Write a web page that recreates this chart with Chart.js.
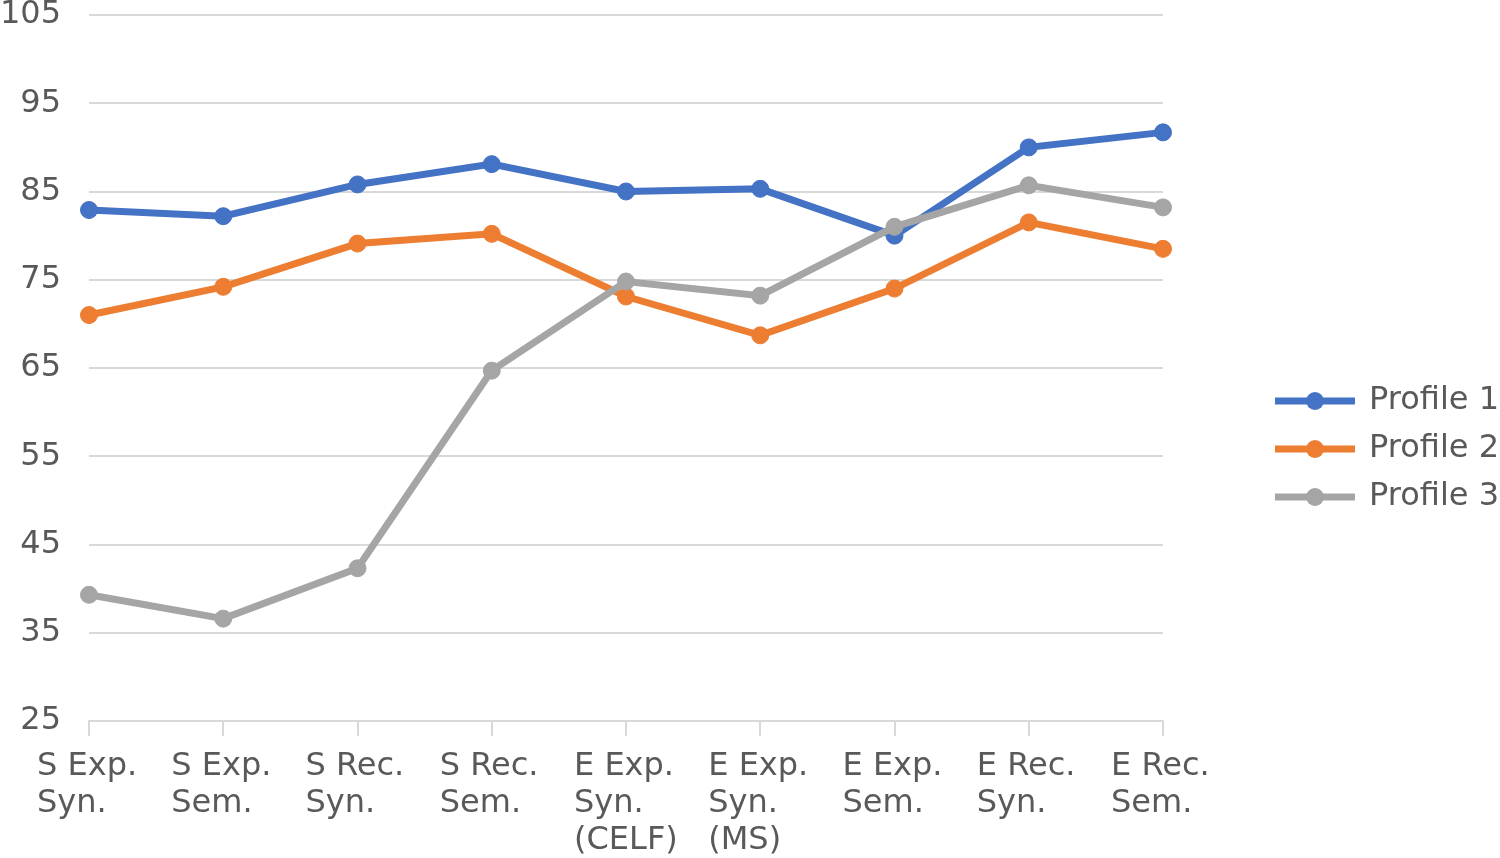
<!DOCTYPE html>
<html>
<head>
<meta charset="utf-8">
<script src="https://cdn.jsdelivr.net/npm/chart.js@4.4.0/dist/chart.umd.min.js"></script>
<style>
  html, body { margin: 0; padding: 0; background: #fff; }
  #wrap { width: 1500px; height: 858px; }
</style>
</head>
<body>
<div id="wrap"><canvas id="chart" width="1500" height="858"></canvas></div>
<script>
// Datos del gráfico
const categories = [
  ['S Exp.', 'Syn.'], ['S Exp.', 'Sem.'], ['S Rec.', 'Syn.'], ['S Rec.', 'Sem.'],
  ['E Exp.', 'Syn.', '(CELF)'], ['E Exp.', 'Syn.', '(MS)'], ['E Exp.', 'Sem.'],
  ['E Rec.', 'Syn.'], ['E Rec.', 'Sem.']
];
const profile1 = [82.9, 82.2, 85.8, 88.1, 85.0, 85.3, 80.0, 90.0, 91.7];
const profile2 = [71.0, 74.2, 79.1, 80.2, 73.1, 68.7, 74.0, 81.5, 78.5];
const profile3 = [39.3, 36.6, 42.3, 64.7, 74.8, 73.2, 81.0, 85.7, 83.2];
const seriesNames = ['Profile 1', 'Profile 2', 'Profile 3'];
const seriesColors = ['#4472C4', '#ED7D31', '#A5A5A5'];
const yMin = 25, yMax = 105, yStep = 10;

const FONT = 'DejaVu Sans';
const TEXT = '#595959';
const GRID = '#D9D9D9';

// Marcador de leyenda: línea con punto (parte izquierda transparente)
const makeMarker = (color) => {
  const c = document.createElement('canvas');
  c.width = 180; c.height = 22;
  const ctx = c.getContext('2d');
  ctx.strokeStyle = color;
  ctx.lineWidth = 7;
  ctx.beginPath(); ctx.moveTo(99, 11); ctx.lineTo(179, 11); ctx.stroke();
  ctx.fillStyle = color;
  ctx.beginPath(); ctx.arc(139, 11, 9, 0, Math.PI * 2); ctx.fill();
  return c;
};
const markers = seriesColors.map(makeMarker);

const seriesData = [profile1, profile2, profile3];
const datasets = seriesNames.map((name, i) => ({
  label: name,
  data: seriesData[i],
  borderColor: seriesColors[i],
  backgroundColor: seriesColors[i],
  borderWidth: 7,
  pointRadius: 8.5,
  pointBorderWidth: 1,
  pointBackgroundColor: seriesColors[i],
  pointBorderColor: seriesColors[i],
  tension: 0,
  order: 3 - i // la última serie se dibuja encima
}));

new Chart(document.getElementById('chart'), {
  type: 'line',
  data: { labels: categories, datasets },
  options: {
    responsive: false,
    animation: false,
    layout: { padding: 0 },
    plugins: {
      tooltip: { enabled: false },
      legend: {
        position: 'right',
        maxWidth: 337,
        title: { display: true, text: '', font: { size: 10, lineHeight: '14px' }, padding: 13 },
        labels: {
          font: { family: FONT, size: 32 },
          color: TEXT,
          padding: 16,
          usePointStyle: true,
          pointStyleWidth: 174,
          generateLabels: (chart) => {
            const items = Chart.defaults.plugins.legend.labels.generateLabels(chart);
            items.sort((a, b) => a.datasetIndex - b.datasetIndex);
            items.forEach(it => { it.pointStyle = markers[it.datasetIndex]; });
            return items;
          }
        }
      }
    },
    scales: {
      x: {
        grid: { drawOnChartArea: false, drawTicks: true, tickLength: 15, color: GRID, lineWidth: 2 },
        border: { display: true, color: GRID, width: 2 },
        ticks: {
          font: { family: FONT, size: 32, lineHeight: '37px' },
          color: TEXT,
          align: 'start',
          labelOffset: -52,
          padding: 12,
          maxRotation: 0,
          autoSkip: false
        },
        afterFit: (s) => { s.height = 137; s.paddingLeft = 0; s.paddingRight = 337; }
      },
      y: {
        min: yMin,
        max: yMax,
        grid: { drawTicks: false, color: GRID, lineWidth: 2 },
        border: { display: false },
        ticks: { stepSize: yStep, font: { family: FONT, size: 32 }, color: TEXT, padding: 28 },
        afterFit: (s) => { s.width = 89; s.paddingTop = 15; s.paddingBottom = 0; }
      }
    }
  }
});
</script>
</body>
</html>
